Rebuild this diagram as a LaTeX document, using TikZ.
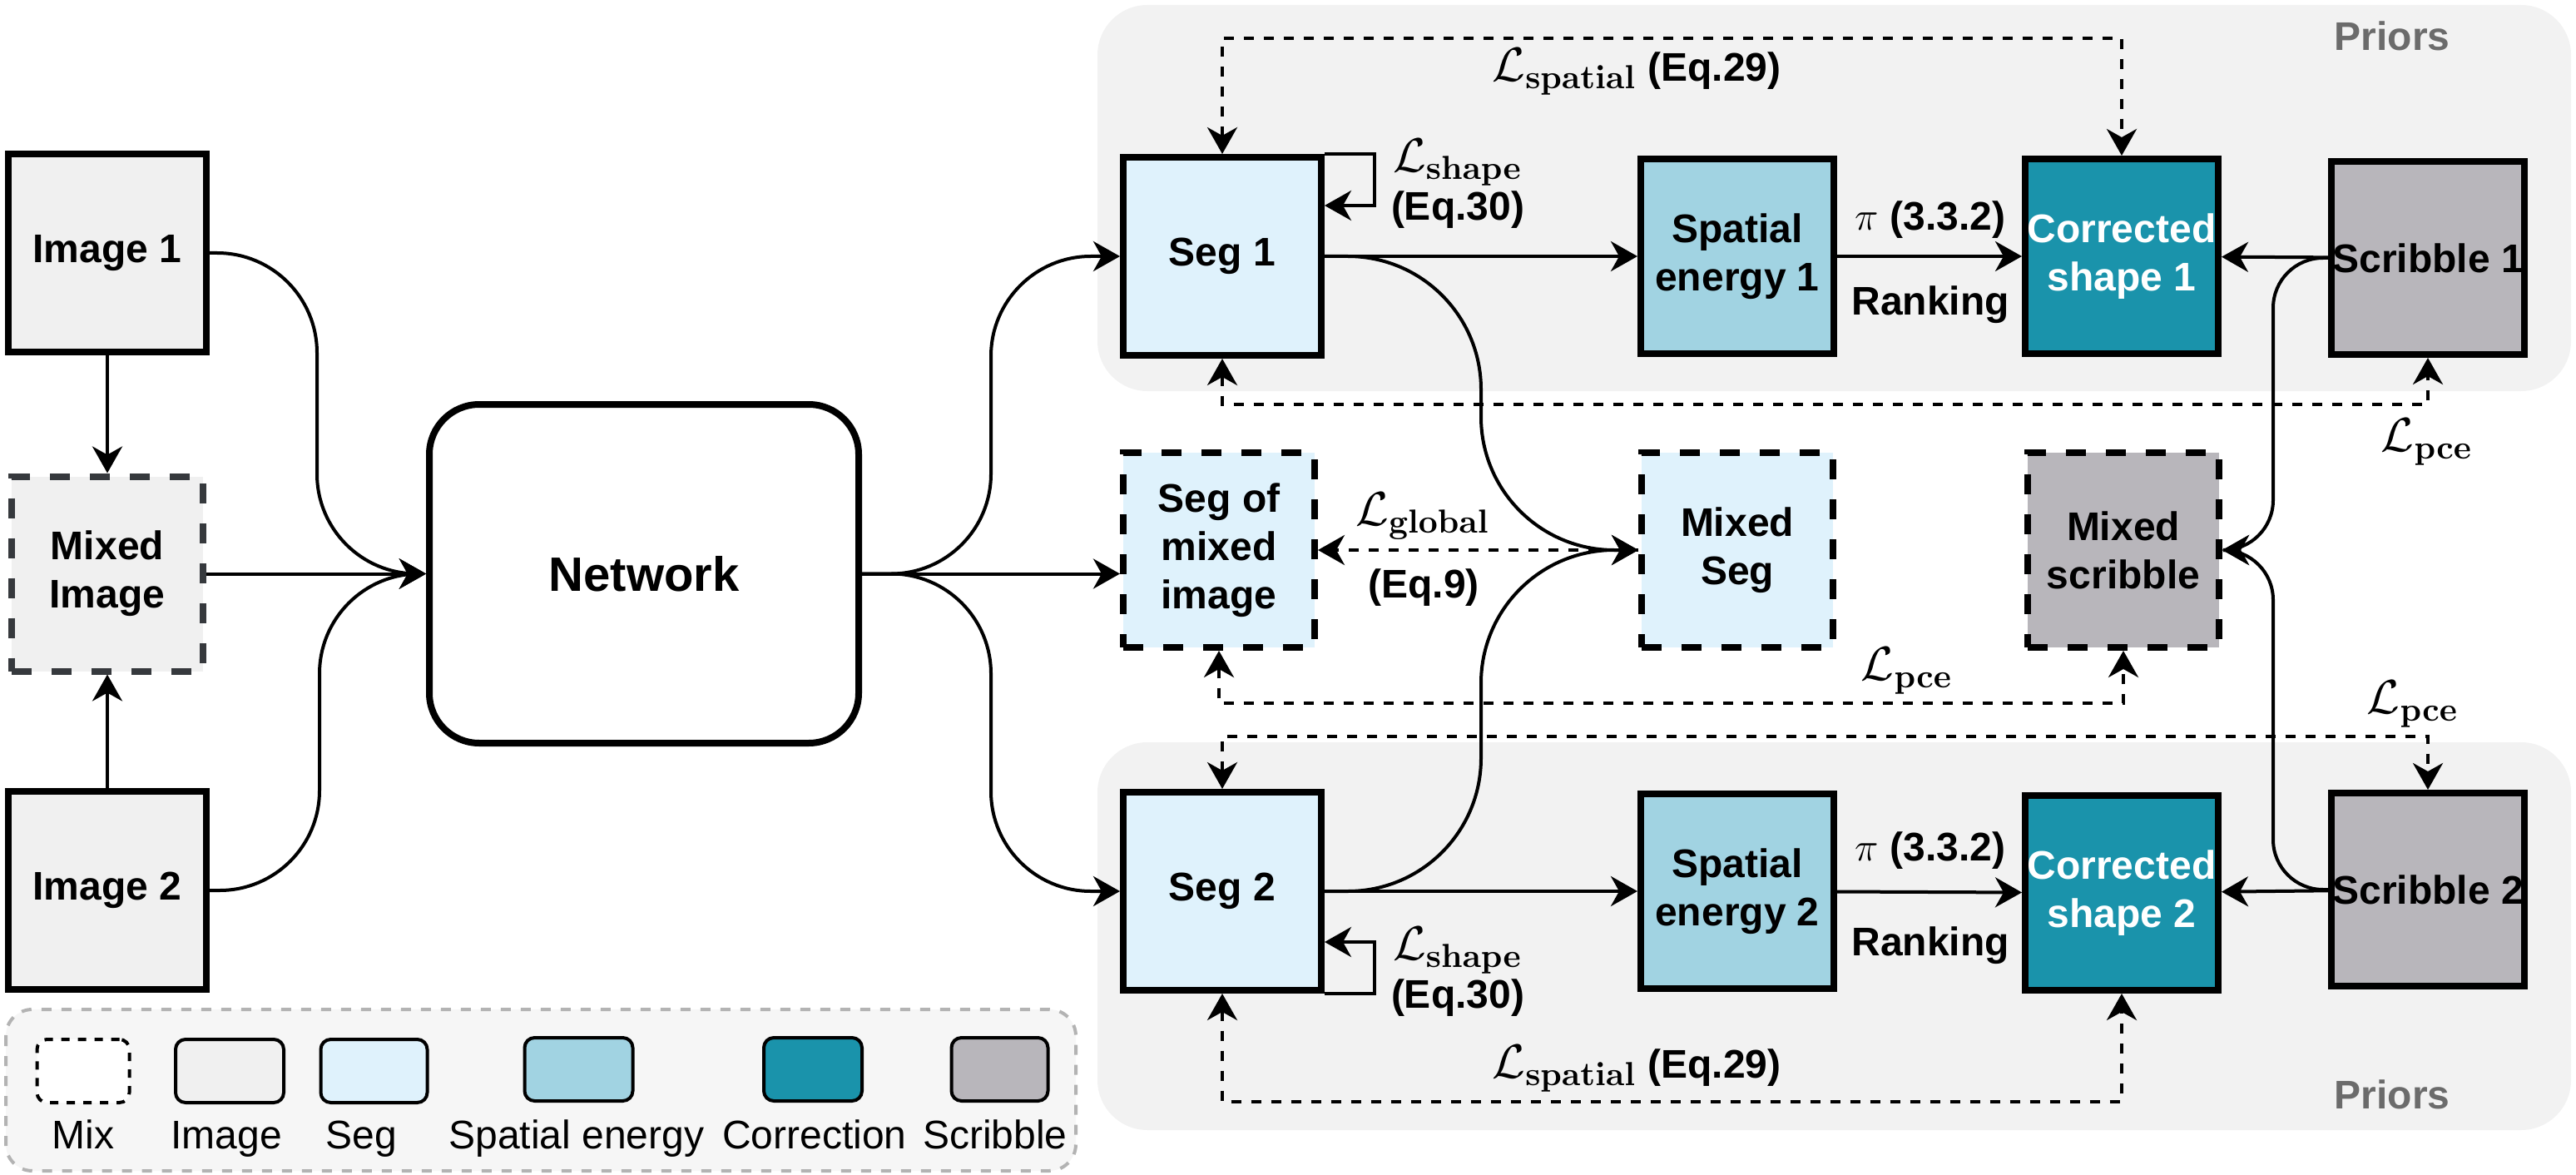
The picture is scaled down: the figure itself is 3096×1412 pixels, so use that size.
\documentclass[tikz,border=0pt]{standalone}
\usepackage[no-math]{fontspec}
\setmainfont{Liberation Sans}
\usetikzlibrary{arrows.meta,calc}

\definecolor{imgfill}{HTML}{F0F0F0}
\definecolor{segfill}{HTML}{DFF2FC}
\definecolor{enfill}{HTML}{A1D3E2}
\definecolor{corfill}{HTML}{1A93AB}
\definecolor{scrfill}{HTML}{B8B6BB}
\definecolor{priorfill}{HTML}{F2F2F2}
\definecolor{legfill}{HTML}{F6F6F6}
\definecolor{legline}{HTML}{B3B3B3}
\definecolor{mixgrey}{HTML}{36393D}
\definecolor{priortext}{HTML}{6B6B6B}

\newcommand{\lossname}[1]{{\fontsize{14.4}{17}\selectfont$\mathcal{L}_{\mathbf{#1}}$}}

\tikzset{every picture/.style={line width=1pt}}

\begin{document}
\begin{tikzpicture}[x=0.25pt,y=0.25pt,yscale=-1,xscale=1,
  txt/.style={font=\fontsize{12}{14.5}\selectfont, align=center, inner sep=1pt},
  blk/.style={draw, line width=2pt, align=center, inner sep=0pt, font=\fontsize{12}{14.5}\selectfont\bfseries, minimum width=59.5pt, minimum height=59.5pt},
  imgblk/.style={blk, fill=imgfill},
  segblk/.style={blk, fill=segfill},
  enblk/.style={blk, fill=enfill, minimum width=58pt, minimum height=58.5pt},
  corblk/.style={blk, fill=corfill, text=white, minimum width=58pt, minimum height=58.5pt},
  scrblk/.style={blk, fill=scrfill, minimum width=58pt, minimum height=58pt},
  mixblk/.style={dash pattern=on 6pt off 6pt, minimum width=57.5pt, minimum height=58.5pt},
  arr/.style={line width=1pt, -{Stealth[length=8pt,width=9pt,inset=2.5pt]}},
  curv/.style={arr, rounded corners=30pt},
  loss/.style={line width=1pt, dash pattern=on 3pt off 3pt, {Stealth[length=8pt,width=9pt,inset=2.5pt]}-{Stealth[length=8pt,width=9pt,inset=2.5pt]}},
  lossone/.style={line width=1pt, dash pattern=on 3pt off 3pt, -{Stealth[length=8pt,width=9pt,inset=2.5pt]}},
  swatch/.style={draw, line width=1pt, rounded corners=3pt, minimum height=19pt, inner sep=0pt},
]
\useasboundingbox (0,0) rectangle (3096,1412);

%Priors backgrounds
\fill[priorfill, rounded corners=15pt] (1319,6) rectangle (3090,470);
\fill[priorfill, rounded corners=15pt] (1319,892) rectangle (3090,1358);
%Legend frame
\draw[legline, fill=legfill, dash pattern=on 3pt off 3pt, rounded corners=8pt] (7,1213) rectangle (1293,1407);

%Inputs
\node[imgblk] (img1) at (129,304) {Image 1};
\node[imgblk, mixblk, draw=mixgrey] (mix) at (129,689.5) {Mixed\\Image};
\node[imgblk] (img2) at (129,1070) {Image 2};
%Network
\node[draw, line width=2pt, rounded corners=15pt, minimum width=129pt, minimum height=101.75pt, font=\fontsize{14.5}{17}\selectfont\bfseries] (net) at (774,689.5) {Network};

%Row 1
\node[segblk] (seg1) at (1469,308) {Seg 1};
\node[enblk] (en1) at (2088,308) {Spatial\\energy 1};
\node[corblk] (cor1) at (2550,308) {Corrected\\shape 1};
\node[scrblk] (scr1) at (2918,310) {Scribble 1};
%Row mix
\node[segblk, mixblk] (segmix) at (1465,661) {Seg of\\mixed\\image};
\node[segblk, mixblk] (mixseg) at (2088,661) {Mixed\\Seg};
\node[scrblk, mixblk] (mixscr) at (2552,661) {Mixed\\scribble};
%Row 2
\node[segblk] (seg2) at (1469,1071) {Seg 2};
\node[enblk] (en2) at (2088,1071) {Spatial\\energy 2};
\node[corblk] (cor2) at (2550,1073) {Corrected\\shape 2};
\node[scrblk] (scr2) at (2918,1069) {Scribble 2};

%Input flow
\draw[arr] (img1) -- (mix);
\draw[arr] (img2) -- (mix);
\draw[curv] (img1.east) -| ($(net.west)+(-131,0)$) -- (net.west);
\draw[arr] (mix) -- (net);
\draw[curv] (img2.east) -| ($(net.west)+(-128,0)$) -- (net.west);
%Network outputs
\draw[curv] (net.east) -| ($(seg1.west)+(-155,0)$) -- (seg1.west);
\draw[arr] (net.east) -- (net.east -| segmix.west);
\draw[curv] (net.east) -| ($(seg2.west)+(-155,0)$) -- (seg2.west);

%Rows
\draw[arr] (seg1) -- (en1);
\draw[arr] (en1) -- (cor1);
\draw[arr] (scr1) -- (cor1);
\draw[arr] (seg2) -- (en2);
\draw[arr] (en2) -- (cor2);
\draw[arr] (scr2) -- (cor2);

%Mixing
\draw[arr, rounded corners=40pt] (seg1.east) -| ($(mixseg.west)+(-189,0)$) -- (mixseg.west);
\draw[arr, rounded corners=40pt] (seg2.east) -| ($(mixseg.west)+(-189,0)$) -- (mixseg.west);
\draw[arr, rounded corners=15pt] (scr1.west) -| ($(mixscr.east)+(61,0)$) -- (mixscr.east);
\draw[arr, rounded corners=15pt] (scr2.west) -| ($(mixscr.east)+(61,0)$) -- (mixscr.east);

%Self loops
\draw[arr] (seg1.north east) -- ++(60,0) |- ($(seg1.east)+(0,-61)$);
\draw[arr] (seg2.south east) -- ++(60,0) |- ($(seg2.east)+(0,61)$);

%Losses
\draw[loss] (seg1.north) -- ++(0,-139) -| (cor1.north);
\draw[loss] (seg1.south) -- ++(0,55) -| (scr1.south);
\draw[lossone] (mixseg.west) -- (segmix.east);
\draw[loss] (segmix.south) -- ++(0,63) -| (mixscr.south);
\draw[loss] (seg2.north) -- ++(0,-63) -| (scr2.north);
\draw[loss] (seg2.south) -- ++(0,130) -| (cor2.south);

% Text Node
\node[txt] (lsp1) at (1967,86) {\lossname{spatial} \textbf{(Eq.29)}};
\node[txt] (lsh1) at (1752,221) {\lossname{shape}\\\textbf{(Eq.30)}};
\node[txt] (pi1) at (2320,264) {$\pi$ \textbf{(3.3.2)}};
\node[txt, font=\fontsize{12}{14.5}\selectfont\bfseries] (rk1) at (2320,366) {Ranking};
\node[txt] (lpc1) at (2917,531) {\lossname{pce}};
\node[txt] (lgl) at (1710,620) {\lossname{global}};
\node[txt] (eq9) at (1711,706) {\textbf{(Eq.9)}};
\node[txt] (lpc2) at (2292,806) {\lossname{pce}};
\node[txt] (lpc3) at (2900,846) {\lossname{pce}};
\node[txt] (pi2) at (2320,1022) {$\pi$ \textbf{(3.3.2)}};
\node[txt, font=\fontsize{12}{14.5}\selectfont\bfseries] (rk2) at (2320,1136) {Ranking};
\node[txt] (lsh2) at (1752,1168) {\lossname{shape}\\\textbf{(Eq.30)}};
\node[txt] (lsp2) at (1967,1284) {\lossname{spatial} \textbf{(Eq.29)}};
% Text Node
\node[txt, text=priortext, font=\fontsize{12}{14.5}\selectfont\bfseries] (pri1) at (2875,43) {Priors};
\node[txt, text=priortext, font=\fontsize{12}{14.5}\selectfont\bfseries] (pri2) at (2875,1315) {Priors};

%Legend
\node[swatch, dash pattern=on 2.5pt off 2.5pt, fill=white, minimum width=27.75pt] (lmix) at (100,1287) {};
\node[swatch, fill=imgfill, minimum width=32.5pt] (limg) at (276,1287) {};
\node[swatch, fill=segfill, minimum width=32pt] (lseg) at (449.5,1287) {};
\node[swatch, fill=enfill, minimum width=32.5pt] (len) at (695.5,1285) {};
\node[swatch, fill=corfill, minimum width=29.5pt] (lcor) at (977,1285) {};
\node[swatch, fill=scrfill, minimum width=29pt] (lscr) at (1201.5,1285) {};
\node[txt, anchor=base] (tmix) at (100,1380) {Mix};
\node[txt, anchor=base] (timg) at (272,1380) {Image};
\node[txt, anchor=base] (tseg) at (434,1380) {Seg};
\node[txt, anchor=base] (ten) at (693,1380) {Spatial energy};
\node[txt, anchor=base] (tcor) at (979,1380) {Correction};
\node[txt, anchor=base] (tscr) at (1196,1380) {Scribble};

\end{tikzpicture}
\end{document}
